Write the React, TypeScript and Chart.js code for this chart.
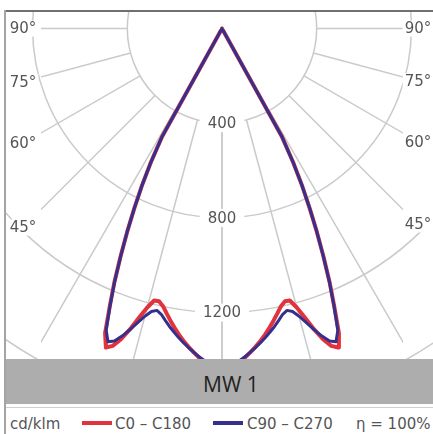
import React, { useEffect, useRef } from 'react';
import { Chart, registerables } from 'chart.js';

Chart.register(...registerables);

// Angles from nadir (degrees)
const ANGLES = [0, 1, 2, 3, 4, 5, 6, 7, 8, 9, 10, 11, 12, 13, 14, 15, 16, 17, 18, 19, 20, 21, 22, 23, 24, 25, 26, 27, 28, 29, 30];
// Luminous intensity, cd/klm
const C0_C180 = [1445, 1437, 1425, 1410, 1393, 1373, 1352, 1330, 1306, 1280, 1253, 1226, 1199, 1182, 1184, 1220, 1270, 1328, 1380, 1418, 1434, 1378, 1265, 1162, 1053, 948, 845, 745, 640, 520, 0];
const C90_C270 = [1440, 1432, 1420, 1405, 1390, 1372, 1355, 1337, 1318, 1298, 1278, 1256, 1234, 1222, 1232, 1258, 1292, 1330, 1366, 1396, 1408, 1365, 1262, 1160, 1052, 948, 845, 745, 640, 520, 0];

const RING_VALUES = [400, 800, 1200, 1600];
const RING_LABELS = [400, 800, 1200];
const ANGLE_LINES = [0, 15, 30, 45, 60, 75, 90];
const ANGLE_LABELS = [45, 60, 75, 90];
const SERIES_NAMES = ['C0 – C180', 'C90 – C270'];
const UNIT_LABEL = 'cd/klm';
const EFFICIENCY_LABEL = 'η = 100%';
const TITLE = 'MW 1';

const RED = '#e1333d';
const BLUE = '#35308c';
const GRID = '#cacaca';
const TEXT = '#555555';

const W = 433;
const H = 434;
const PX_PER_UNIT = 94.7 / 400;
const CX = 222;
const CY = 28.5;
const X_MIN = -CX / PX_PER_UNIT;
const X_MAX = (W - CX) / PX_PER_UNIT;
const Y_MAX = CY / PX_PER_UNIT;
const Y_MIN = Y_MAX - H / PX_PER_UNIT;

const rad = (d: number) => (d * Math.PI) / 180;

function toXY(angles: number[], values: number[]) {
  const pts: { x: number; y: number }[] = [];
  for (let i = angles.length - 1; i >= 0; i--) {
    pts.push({ x: -values[i] * Math.sin(rad(angles[i])), y: -values[i] * Math.cos(rad(angles[i])) });
  }
  for (let i = 1; i < angles.length; i++) {
    pts.push({ x: values[i] * Math.sin(rad(angles[i])), y: -values[i] * Math.cos(rad(angles[i])) });
  }
  return pts;
}

const gridPlugin = {
  id: 'polarGrid',
  beforeDatasetsDraw(chart: any) {
    const { ctx } = chart;
    const xs = chart.scales.x;
    const ys = chart.scales.y;
    const cx = xs.getPixelForValue(0);
    const cy = ys.getPixelForValue(0);
    const unit = xs.getPixelForValue(1) - cx;

    // circles
    ctx.save();
    ctx.beginPath();
    ctx.rect(6, 12, 427, 347);
    ctx.clip();
    ctx.strokeStyle = GRID;
    ctx.lineWidth = 1.5;
    for (const r of RING_VALUES) {
      ctx.beginPath();
      ctx.arc(cx, cy, r * unit, 0, Math.PI * 2);
      ctx.stroke();
    }
    ctx.restore();

    // radial lines
    ctx.save();
    ctx.beginPath();
    ctx.rect(41, 12, 362, 347);
    ctx.clip();
    ctx.strokeStyle = GRID;
    ctx.lineWidth = 1.5;
    for (const a of ANGLE_LINES) {
      for (const side of [-1, 1]) {
        const s = Math.sin(rad(a));
        const c = Math.cos(rad(a));
        ctx.beginPath();
        ctx.moveTo(xs.getPixelForValue(side * 400 * s), ys.getPixelForValue(-400 * c));
        ctx.lineTo(xs.getPixelForValue(side * 2400 * s), ys.getPixelForValue(-2400 * c));
        ctx.stroke();
      }
    }
    ctx.restore();

    // intensity labels
    ctx.save();
    ctx.font = '15px "DejaVu Sans"';
    ctx.textAlign = 'center';
    ctx.textBaseline = 'middle';
    for (const v of RING_LABELS) {
      const t = String(v);
      const py = ys.getPixelForValue(-v);
      const w = ctx.measureText(t).width + 16;
      ctx.fillStyle = '#ffffff';
      ctx.fillRect(cx - w / 2, py - 9, w, 18);
      ctx.fillStyle = TEXT;
      ctx.fillText(t, cx, py + 1);
    }
    // angle labels
    for (const a of ANGLE_LABELS) {
      const cot = Math.cos(rad(a)) / Math.sin(rad(a));
      for (const lx of [23, 418]) {
        const py = cy + Math.abs(lx - cx) * cot;
        const t = a + '°';
        const w = ctx.measureText(t).width + 4;
        ctx.fillStyle = '#ffffff';
        ctx.fillRect(lx - w / 2, py - 8, w, 16);
        ctx.fillStyle = TEXT;
        ctx.fillText(t, lx, py + 1);
      }
    }
    ctx.restore();
  },
};

export default function App() {
  const ref = useRef<HTMLCanvasElement>(null);
  useEffect(() => {
    const chart = new Chart(ref.current as HTMLCanvasElement, {
      type: 'scatter',
      data: {
        datasets: [
          {
            label: SERIES_NAMES[0],
            data: toXY(ANGLES, C0_C180),
            showLine: true,
            borderColor: RED,
            backgroundColor: RED,
            borderWidth: 4,
            pointRadius: 0,
            borderJoinStyle: 'round',
            borderCapStyle: 'round',
            order: 2,
          },
          {
            label: SERIES_NAMES[1],
            data: toXY(ANGLES, C90_C270),
            showLine: true,
            borderColor: BLUE,
            backgroundColor: BLUE,
            borderWidth: 3,
            pointRadius: 0,
            borderJoinStyle: 'round',
            borderCapStyle: 'round',
            order: 1,
          },
        ],
      },
      options: {
        animation: false,
        responsive: false,
        maintainAspectRatio: false,
        layout: { padding: 0 },
        scales: {
          x: { type: 'linear', min: X_MIN, max: X_MAX, display: false },
          y: { type: 'linear', min: Y_MIN, max: Y_MAX, display: false },
        },
        plugins: { legend: { display: false }, tooltip: { enabled: false } },
      },
      plugins: [gridPlugin],
    } as any);
    return () => chart.destroy();
  }, []);

  const legendText: React.CSSProperties = {
    position: 'absolute',
    top: 415,
    font: '15px "DejaVu Sans"',
    color: TEXT,
    whiteSpace: 'nowrap',
    lineHeight: 'normal',
  };

  return (
    <div style={{ position: 'absolute', left: 0, top: 0, width: W, height: H, background: '#fff', overflow: 'hidden' }}>
      <canvas ref={ref} width={W} height={H} style={{ position: 'absolute', left: 0, top: 0 }} />
      <div style={{ position: 'absolute', left: 5, top: 10, width: 428, height: 2, background: '#707070' }} />
      <div style={{ position: 'absolute', left: 4, top: 10, width: 2, height: 424, background: '#a4a4a4' }} />
      <div style={{ position: 'absolute', left: 6, top: 359, width: 427, height: 45, background: '#adadad' }}>
        <div style={{ position: 'absolute', left: 197, top: 11, font: '21px "Open Sans"', color: '#222', whiteSpace: 'nowrap', lineHeight: 'normal' }}>{TITLE}</div>
      </div>
      <div style={{ position: 'absolute', left: 6, top: 404, width: 427, height: 30, background: '#fff' }} />
      <div style={{ position: 'absolute', left: 6, top: 407, width: 427, height: 1, background: '#cfcfcf' }} />
      <div style={{ ...legendText, left: 10 }}>{UNIT_LABEL}</div>
      <div style={{ position: 'absolute', left: 82, top: 421, width: 30, height: 4, background: RED }} />
      <div style={{ ...legendText, left: 115 }}>{SERIES_NAMES[0]}</div>
      <div style={{ position: 'absolute', left: 213, top: 421, width: 30, height: 4, background: BLUE }} />
      <div style={{ ...legendText, left: 247 }}>{SERIES_NAMES[1]}</div>
      <div style={{ ...legendText, left: 356 }}>{EFFICIENCY_LABEL}</div>
    </div>
  );
}
